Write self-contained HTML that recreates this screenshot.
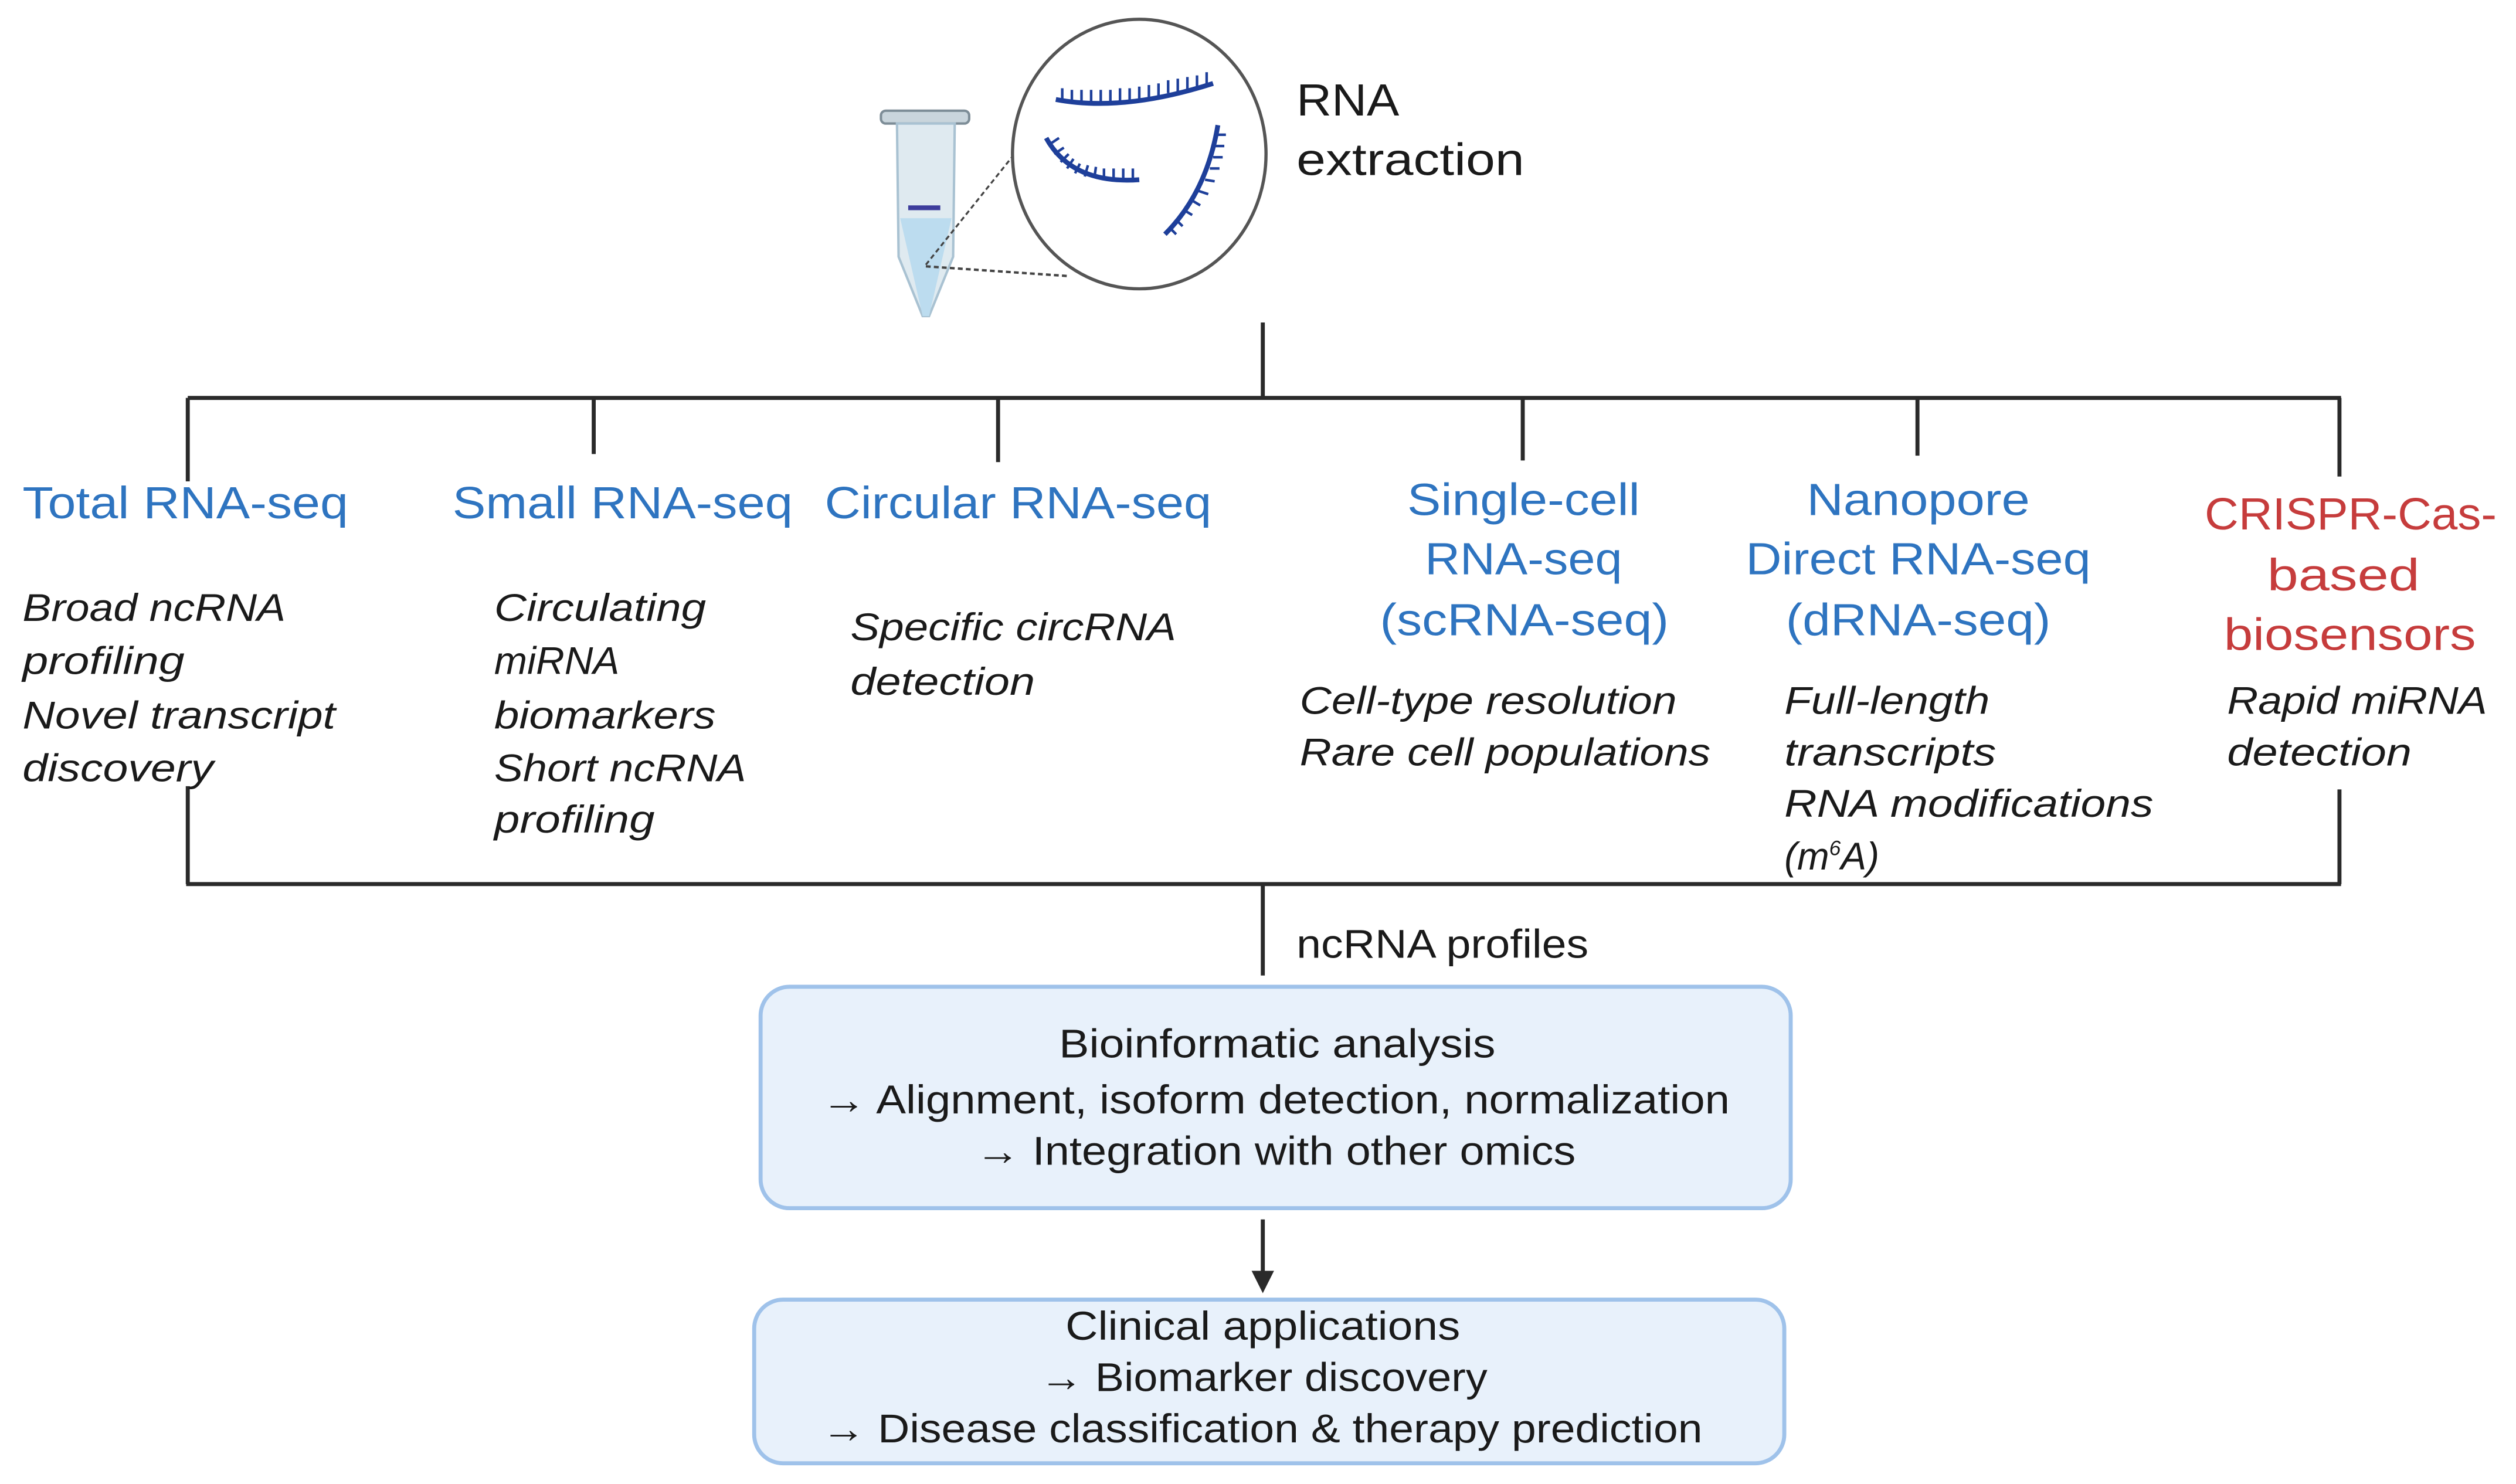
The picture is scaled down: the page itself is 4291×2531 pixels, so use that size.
<!DOCTYPE html>
<html><head><meta charset="utf-8"><style>
html,body{margin:0;padding:0;background:#fff;}
svg{display:block;}
text{font-family:"Liberation Sans",sans-serif;}
.t{fill:#2e74c0;font-size:28px;}
.r{fill:#c63c3c;font-size:28px;}
.i{fill:#1a1a1a;font-size:24px;font-style:italic;}
.b{fill:#1a1a1a;font-size:25px;}
</style></head><body>
<svg width="4291" height="2531" viewBox="0 0 1568 924.9" xmlns="http://www.w3.org/2000/svg">
<rect width="1568" height="925" fill="#fff"/>
<!-- tube -->
<rect x="549" y="69" width="55" height="8" rx="3" fill="#c9d5dc" stroke="#7d8d97" stroke-width="1.5"/>
<path d="M559 77 L595 77 L594 160 L579 197 L575 197 L560 160 Z" fill="#dfeaf0" stroke="#a9c2d2" stroke-width="1.5"/>
<path d="M561 136 L593 136 L579 197 L575 197 Z" fill="#bcdcef"/>
<rect x="566" y="128" width="20" height="3" fill="#3d3d9c"/>
<line x1="577" y1="165" x2="633" y2="95" stroke="#444" stroke-width="1.2" stroke-dasharray="3,2"/>
<line x1="577" y1="166" x2="665" y2="172" stroke="#444" stroke-width="1.5" stroke-dasharray="3,2"/>
<!-- circle -->
<ellipse cx="710" cy="96" rx="79" ry="84" fill="#fff" stroke="#555" stroke-width="2"/>
<g stroke="#1e3f9a" stroke-width="3" fill="none">
<path d="M658 62 Q700 70 756 52"/>
<path d="M652 86 Q668 115 710 112"/>
<path d="M759 78 Q752 120 726 146"/>
</g>
<g stroke="#1e3f9a" stroke-width="1.6">
<path d="M662 63v-8M668 64v-8M674 64v-8M680 64v-8M686 64v-8M692 64v-8M698 63v-8M704 63v-8M710 62v-8M716 61v-8M722 60v-8M728 58v-8M734 57v-8M740 56v-8M746 55v-8M752 53v-8"/>
<path d="M654 90l6-4M657 96l6-4M661 101l5-5M665 105l4-6M670 108l3-6M676 110l2-7M682 111l1-7M688 112l0-7M694 112l0-7M700 112v-7M706 112v-7"/>
<path d="M758 84h6M757 91h6M756 98h6M754 105h6M751 112l6 1M747 119l6 2M743 125l5 3M738 131l5 3M733 137l4 4M729 142l4 4"/>
</g>
<text x="808" y="72" class="b" style="font-size:28px" textLength="64" lengthAdjust="spacingAndGlyphs">RNA</text>
<text x="808" y="109" class="b" style="font-size:28px" textLength="142" lengthAdjust="spacingAndGlyphs">extraction</text>
<!-- tree lines -->
<g stroke="#2a2a2a" stroke-width="2.5" fill="none">
<line x1="787" y1="201" x2="787" y2="248"/>
<line x1="117" y1="248" x2="1459" y2="248"/>
<line x1="117" y1="248" x2="117" y2="300"/>
<line x1="370" y1="248" x2="370" y2="283"/>
<line x1="622" y1="248" x2="622" y2="288"/>
<line x1="949" y1="248" x2="949" y2="287"/>
<line x1="1195" y1="248" x2="1195" y2="284"/>
<line x1="1458" y1="248" x2="1458" y2="297"/>
<line x1="117" y1="490" x2="117" y2="551"/>
<line x1="1458" y1="492" x2="1458" y2="551"/>
<line x1="116" y1="551" x2="1459" y2="551"/>
<line x1="787" y1="551" x2="787" y2="608"/>
<line x1="787" y1="760" x2="787" y2="795"/>
</g>
<path d="M780 792 L794 792 L787 806 Z" fill="#2a2a2a"/>
<!-- titles -->
<text x="14" y="323" class="t" textLength="203" lengthAdjust="spacingAndGlyphs">Total RNA-seq</text>
<text x="282" y="323" class="t" textLength="212" lengthAdjust="spacingAndGlyphs">Small RNA-seq</text>
<text x="514" y="323" class="t" textLength="241" lengthAdjust="spacingAndGlyphs">Circular RNA-seq</text>
<text x="877" y="321" class="t" textLength="145" lengthAdjust="spacingAndGlyphs">Single-cell</text>
<text x="888" y="358" class="t" textLength="123" lengthAdjust="spacingAndGlyphs">RNA-seq</text>
<text x="860" y="396" class="t" textLength="180" lengthAdjust="spacingAndGlyphs">(scRNA-seq)</text>
<text x="1126" y="321" class="t" textLength="139" lengthAdjust="spacingAndGlyphs">Nanopore</text>
<text x="1088" y="358" class="t" textLength="215" lengthAdjust="spacingAndGlyphs">Direct RNA-seq</text>
<text x="1113" y="396" class="t" textLength="165" lengthAdjust="spacingAndGlyphs">(dRNA-seq)</text>
<text x="1374" y="330" class="r" textLength="182" lengthAdjust="spacingAndGlyphs">CRISPR-Cas-</text>
<text x="1413" y="368" class="r" textLength="95" lengthAdjust="spacingAndGlyphs">based</text>
<text x="1386" y="405" class="r" textLength="157" lengthAdjust="spacingAndGlyphs">biosensors</text>
<!-- descriptions -->
<text x="14" y="387" class="i" textLength="164" lengthAdjust="spacingAndGlyphs">Broad ncRNA</text>
<text x="14" y="420" class="i" textLength="101" lengthAdjust="spacingAndGlyphs">profiling</text>
<text x="14" y="454" class="i" textLength="195" lengthAdjust="spacingAndGlyphs">Novel transcript</text>
<text x="14" y="487" class="i" textLength="119" lengthAdjust="spacingAndGlyphs">discovery</text>
<text x="308" y="387" class="i" textLength="132" lengthAdjust="spacingAndGlyphs">Circulating</text>
<text x="308" y="420" class="i" textLength="78" lengthAdjust="spacingAndGlyphs">miRNA</text>
<text x="308" y="454" class="i" textLength="138" lengthAdjust="spacingAndGlyphs">biomarkers</text>
<text x="308" y="487" class="i" textLength="157" lengthAdjust="spacingAndGlyphs">Short ncRNA</text>
<text x="308" y="519" class="i" textLength="100" lengthAdjust="spacingAndGlyphs">profiling</text>
<text x="530" y="399" class="i" textLength="203" lengthAdjust="spacingAndGlyphs">Specific circRNA</text>
<text x="530" y="433" class="i" textLength="115" lengthAdjust="spacingAndGlyphs">detection</text>
<text x="810" y="445" class="i" textLength="235" lengthAdjust="spacingAndGlyphs">Cell-type resolution</text>
<text x="810" y="477" class="i" textLength="256" lengthAdjust="spacingAndGlyphs">Rare cell populations</text>
<text x="1112" y="445" class="i" textLength="128" lengthAdjust="spacingAndGlyphs">Full-length</text>
<text x="1112" y="477" class="i" textLength="132" lengthAdjust="spacingAndGlyphs">transcripts</text>
<text x="1112" y="509" class="i" textLength="230" lengthAdjust="spacingAndGlyphs">RNA modifications</text>
<text x="1112" y="542" class="i">(m<tspan dy="-9" style="font-size:13px">6</tspan><tspan dy="9">A)</tspan></text>
<text x="1388" y="445" class="i" textLength="162" lengthAdjust="spacingAndGlyphs">Rapid miRNA</text>
<text x="1388" y="477" class="i" textLength="115" lengthAdjust="spacingAndGlyphs">detection</text>
<text x="808" y="597" class="b" textLength="182" lengthAdjust="spacingAndGlyphs">ncRNA profiles</text>
<!-- boxes -->
<rect x="474" y="615" width="642" height="138" rx="18" fill="#e8f1fb" stroke="#9fc2ea" stroke-width="2.5"/>
<text x="660" y="659" class="b" textLength="272" lengthAdjust="spacingAndGlyphs">Bioinformatic analysis</text>
<text x="512" y="694" class="b" textLength="566" lengthAdjust="spacingAndGlyphs">→ Alignment, isoform detection, normalization</text>
<text x="608" y="726" class="b" textLength="374" lengthAdjust="spacingAndGlyphs">→ Integration with other omics</text>
<rect x="470" y="810" width="642" height="102" rx="18" fill="#e8f1fb" stroke="#9fc2ea" stroke-width="2.5"/>
<text x="664" y="835" class="b" textLength="246" lengthAdjust="spacingAndGlyphs">Clinical applications</text>
<text x="648" y="867" class="b" textLength="279" lengthAdjust="spacingAndGlyphs">→ Biomarker discovery</text>
<text x="512" y="899" class="b" textLength="549" lengthAdjust="spacingAndGlyphs">→ Disease classification &amp; therapy prediction</text>
</svg>
</body></html>
